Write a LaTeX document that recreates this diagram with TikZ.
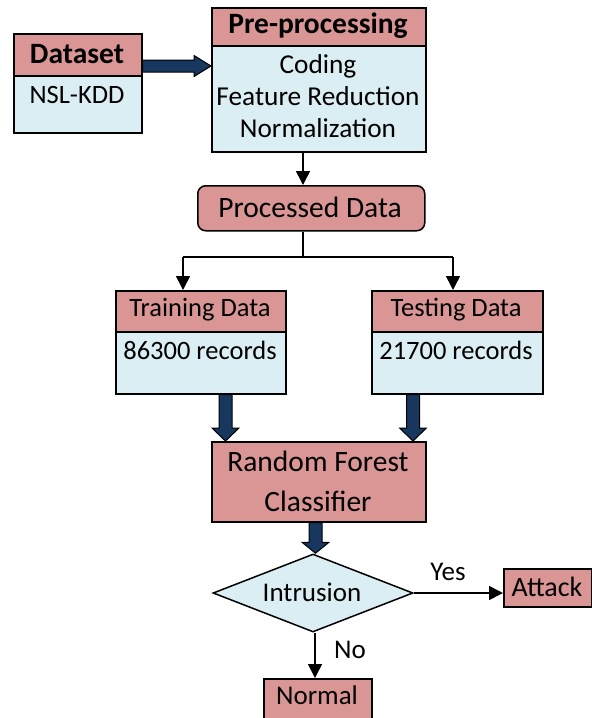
\documentclass[tikz,border=0pt]{standalone}
\usepackage{fontspec}
\setmainfont{Carlito}
\usetikzlibrary{arrows.meta,calc,shapes.geometric}
\definecolor{pinkc}{HTML}{D99694}
\definecolor{bluec}{HTML}{DBEEF3}
\definecolor{navyc}{HTML}{17375E}
\newcommand\fatv[5]{\path[fat] let \p1=(#1), \p2=(#2) in
  (\x1-#3pt,\y1) -- (\x1+#3pt,\y1) -- (\x1+#3pt,\y2+#5pt) -- (\x1+#4pt,\y2+#5pt) --
  (\x1,\y2) -- (\x1-#4pt,\y2+#5pt) -- (\x1-#3pt,\y2+#5pt) -- cycle;}
\newcommand\fath[5]{\path[fat] let \p1=(#1), \p2=(#2) in
  (\x1,\y1-#3pt) -- (\x1,\y1+#3pt) -- (\x2-#5pt,\y1+#3pt) -- (\x2-#5pt,\y1+#4pt) --
  (\x2,\y1) -- (\x2-#5pt,\y1-#4pt) -- (\x2-#5pt,\y1-#3pt) -- cycle;}
\begin{document}
\begin{tikzpicture}[x=1pt,y=-1pt,
  font=\fontsize{26.5}{32}\selectfont,
  box/.style={draw=black, line width=1.5pt, inner sep=0pt, anchor=north west},
  hdr/.style={box, fill=pinkc},
  bdy/.style={box, fill=bluec},
  txt/.style={inner sep=0pt, align=center},
  big/.style={txt, font=\fontsize{29.5}{40}\selectfont},
  bold/.style={txt, font=\fontsize{29.5}{32}\selectfont\bfseries},
  thin/.style={line width=1.6pt, -{Triangle[width=14pt,length=14pt]}},
  plain/.style={line width=1.6pt},
  fat/.style={draw=black, line width=1pt, fill=navyc, line join=miter}]
\useasboundingbox (0,0) rectangle (592,718);

% Dataset
\node[hdr, minimum width=128, minimum height=42] (dsh) at (13,33) {};
\node[bdy, minimum width=128, minimum height=57] (dsb) at (13,75) {};
\node[bold] (dst) at (77,54) {Dataset};
\node[txt] (dsx) at (77,95) {NSL-KDD};

% Pre-processing
\node[hdr, minimum width=214, minimum height=38] (pph) at (211,7) {};
\node[bdy, minimum width=214, minimum height=106] (ppb) at (211,45) {};
\node[bold] (ppt) at (318,26) {Pre-processing};
\node[txt, font=\fontsize{27.3}{31.7}\selectfont] (ppx) at (318,96) {Coding\\Feature Reduction\hspace*{0.3em}\\Normalization};

% Processed data
\node[hdr, rounded corners=8pt, minimum width=227, minimum height=45] (pd) at (197,185) {};
\node[big] (pdt) at (310,207) {Processed Data};

% Training / Testing
\node[hdr, minimum width=170, minimum height=41] (trh) at (115,290) {};
\node[bdy, minimum width=170, minimum height=62] (trb) at (115,331) {};
\node[txt] (trt) at (200,310) {Training Data};
\node[txt] (trx) at (200,350) {86300 records};
\node[hdr, minimum width=171, minimum height=41] (teh) at (371,290) {};
\node[bdy, minimum width=171, minimum height=62] (teb) at (371,331) {};
\node[txt] (tet) at (456,310) {Testing Data};
\node[txt] (tex) at (456,350) {21700 records};

% Random forest
\node[hdr, minimum width=214, minimum height=80] (rf) at (211,441) {};
\node[big] (rft) at (318,481) {Random Forest\\Classifier};

% Decision
\node[draw=black, line width=1.5pt, fill=bluec, shape=diamond, aspect=2.56,
      minimum width=200, minimum height=78, inner sep=0pt] (dia) at (313,593) {};
\node[txt, font=\fontsize{27}{32}\selectfont] (diat) at (312,592) {Intrusion};

% Outcomes
\node[hdr, minimum width=88, minimum height=38] (att) at (503,568) {};
\node[txt, font=\fontsize{28}{32}\selectfont] (attt) at (547,587) {Attack};
\node[hdr, minimum width=108, minimum height=50] (nor) at (263,678) {};
\node[txt, font=\fontsize{27}{32}\selectfont] (nort) at (317,695) {Normal};

% helper coordinates
\coordinate (c0) at (0,66);
\coordinate (c1) at (303,0);
\coordinate (c2) at (0,257);
\coordinate (cl) at (183,0);
\coordinate (cr) at (453,0);
\coordinate (a1) at (225.5,0);
\coordinate (a2) at (413,0);
\coordinate (a3) at (315.5,0);
\coordinate (a4) at (315,0);

% connectors
\fath{dsh.east |- c0}{ppb.west |- c0}{6}{10.5}{17}
\draw[thin] (ppb.south -| c1) -- (pd.north -| c1);
\draw[plain] (pd.south -| c1) -- (c2 -| c1);
\draw[thin] (c2 -| cl) -- (trh.north -| cl);
\draw[thin] (c2 -| cr) -- (teh.north -| cr);
\draw[plain] (c2 -| cl) -- (c2 -| cr);
\fatv{trb.south -| a1}{rf.north -| a1}{6.5}{13.5}{13}
\fatv{teb.south -| a2}{rf.north -| a2}{6.5}{13.5}{13}
\fatv{rf.south -| a3}{dia.north -| a3}{6.5}{13.5}{11}
\draw[thin] (dia.east) -- (dia.east -| att.west);
\draw[thin] (dia.south -| a4) -- (nor.north -| a4);

% labels
\node[txt, font=\fontsize{27}{32}\selectfont] (yes) at (448,572) {Yes};
\node[txt, font=\fontsize{27}{32}\selectfont] (no) at (350,650) {No};
\end{tikzpicture}
\end{document}
